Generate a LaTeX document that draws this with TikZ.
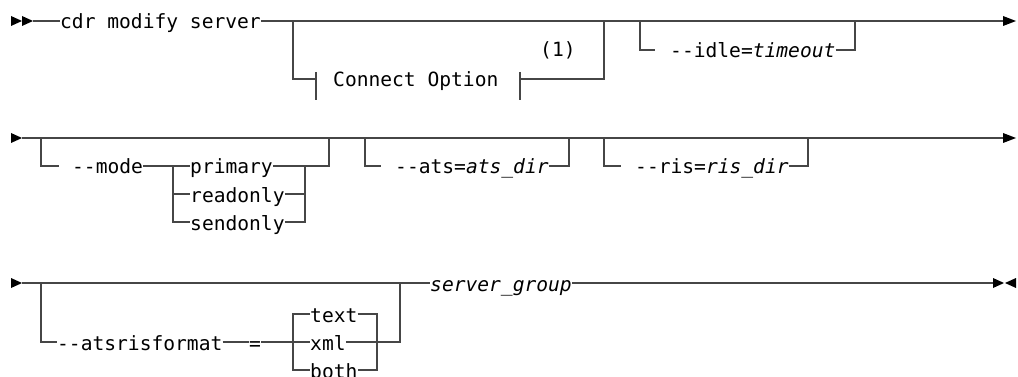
\documentclass[tikz,border=0pt]{standalone}
\usepackage{fontspec}
\setmonofont{DejaVu Sans Mono}
\definecolor{railc}{RGB}{70,70,70}
\begin{document}
\begin{tikzpicture}[x=1pt,y=-1pt,
  rail/.style={draw=railc, line width=1.6pt},
  lbl/.style={font=\ttfamily\fontsize{19.6}{22}\selectfont, inner sep=0pt, anchor=base west, text=black},
  tipr/.style={fill=black}]
\useasboundingbox (0,0) rectangle (1018,377);
% ---------- row 1 ----------
\coordinate (r1a) at (11,21);
\coordinate (r1s) at (33,21);
\coordinate (r1e) at (1003,21);
\fill[tipr] (11,16) -- (22,21) -- (11,26) -- cycle;
\fill[tipr] (22,16) -- (33,21) -- (22,26) -- cycle;
\fill[tipr] (1003,16) -- (1016,21) -- (1003,26) -- cycle;
\node[lbl] (cmd) at (60,29) {cdr modify server};
\draw[rail] (r1s) -- (cmd.west |- r1s);
\draw[rail] (cmd.east |- r1s) -- (r1e);
% connect option
\coordinate (c1) at (293,21);
\coordinate (c2) at (293,79);
\coordinate (c3) at (316,79);
\coordinate (t1a) at (316,72);
\coordinate (t1b) at (316,100);
\coordinate (t2a) at (520,72);
\coordinate (t2b) at (520,100);
\coordinate (c4) at (520,79);
\coordinate (c5) at (604,79);
\coordinate (c6) at (604,21);
\node[lbl] (conn) at (333,87) {Connect Option};
\node[lbl] (fn) at (540,57) {(1)};
\draw[rail] (c1) -- (c2) -- (c3);
\draw[rail] (t1a) -- (t1b);
\draw[rail] (t2a) -- (t2b);
\draw[rail] (c4) -- (c5) -- (c6);
% idle
\coordinate (i1) at (640,21);
\coordinate (i2) at (640,50);
\coordinate (i3) at (655,50);
\coordinate (i4) at (855,50);
\coordinate (i5) at (855,21);
\node[lbl] (idle) at (670,58) {--idle=\textit{timeout}};
\draw[rail] (i1) -- (i2) -- (i3);
\draw[rail] (idle.east |- i4) -- (i4) -- (i5);
% ---------- row 2 ----------
\coordinate (r2s) at (22,138);
\coordinate (r2e) at (1003,138);
\fill[tipr] (11,133) -- (22,138) -- (11,143) -- cycle;
\fill[tipr] (1003,133) -- (1016,138) -- (1003,143) -- cycle;
\draw[rail] (r2s) -- (r2e);
% mode
\coordinate (m1) at (41,138);
\coordinate (m2) at (41,166);
\coordinate (m3) at (59,166);
\coordinate (mL1) at (173,166);
\coordinate (mL2) at (173,194);
\coordinate (mL3) at (173,222);
\coordinate (mR1) at (305,166);
\coordinate (mR2) at (305,194);
\coordinate (mR3) at (305,222);
\coordinate (m4) at (329,166);
\coordinate (m5) at (329,138);
\node[lbl] (mode) at (72,174) {--mode};
\node[lbl] (prim) at (190,174) {primary};
\node[lbl] (rdo) at (190,202) {readonly};
\node[lbl] (sdo) at (190,230) {sendonly};
\draw[rail] (m1) -- (m2) -- (m3);
\draw[rail] (mode.east |- mL1) -- (mL1) -- (prim.west |- mL1);
\draw[rail] (mL1) -- (mL3) -- (sdo.west |- mL3);
\draw[rail] (mL2) -- (rdo.west |- mL2);
\draw[rail] (prim.east |- mR1) -- (mR1) -- (m4) -- (m5);
\draw[rail] (rdo.east |- mR2) -- (mR2);
\draw[rail] (sdo.east |- mR3) -- (mR3) -- (mR1);
% ats
\coordinate (a1) at (365,138);
\coordinate (a2) at (365,166);
\coordinate (a3) at (381,166);
\coordinate (a4) at (569,166);
\coordinate (a5) at (569,138);
\node[lbl] (ats) at (395,174) {--ats=\textit{ats\_dir}};
\draw[rail] (a1) -- (a2) -- (a3);
\draw[rail] (ats.east |- a4) -- (a4) -- (a5);
% ris
\coordinate (b1) at (604,138);
\coordinate (b2) at (604,166);
\coordinate (b3) at (621,166);
\coordinate (b4) at (808,166);
\coordinate (b5) at (808,138);
\node[lbl] (ris) at (635,174) {--ris=\textit{ris\_dir}};
\draw[rail] (b1) -- (b2) -- (b3);
\draw[rail] (ris.east |- b4) -- (b4) -- (b5);
% ---------- row 3 ----------
\coordinate (r3s) at (22,283);
\coordinate (r3e) at (993,283);
\fill[tipr] (11,278) -- (22,283) -- (11,288) -- cycle;
\fill[tipr] (993,278) -- (1004,283) -- (993,288) -- cycle;
\fill[tipr] (1016,278) -- (1005,283) -- (1016,288) -- cycle;
\node[lbl] (sg) at (430,291) {\textit{server\_group}};
\draw[rail] (r3s) -- (sg.west |- r3s);
\draw[rail] (sg.east |- r3s) -- (r3e);
% atsrisformat
\coordinate (f1) at (41,283);
\coordinate (f2) at (41,342);
\coordinate (fL1) at (293,314);
\coordinate (fL2) at (293,342);
\coordinate (fL3) at (293,370);
\coordinate (fR1) at (377,314);
\coordinate (fR2) at (377,342);
\coordinate (fR3) at (377,370);
\coordinate (f3) at (400,342);
\coordinate (f4) at (400,283);
\node[lbl] (fmt) at (57,350) {--atsrisformat};
\node[lbl] (eq) at (249,350) {=};
\node[lbl] (txt) at (310,322) {text};
\node[lbl] (xml) at (310,350) {xml};
\node[lbl] (both) at (310,378) {both};
\draw[rail] (f1) -- (f2) -- (fmt.west |- f2);
\draw[rail] (fmt.east |- f2) -- (eq.west |- f2);
\draw[rail] (eq.east |- f2) -- (fL2) -- (xml.west |- fL2);
\draw[rail] (txt.west |- fL1) -- (fL1) -- (fL3) -- (both.west |- fL3);
\draw[rail] (txt.east |- fR1) -- (fR1) -- (fR3) -- (both.east |- fR3);
\draw[rail] (xml.east |- f3) -- (f3) -- (f4);
\end{tikzpicture}
\end{document}
